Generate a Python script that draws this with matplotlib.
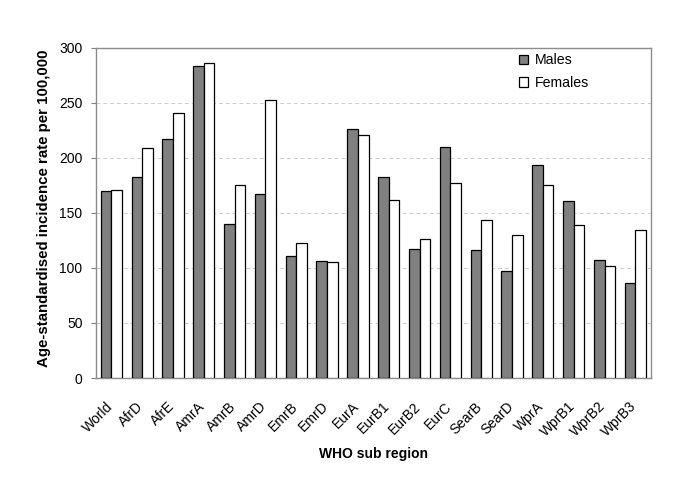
import matplotlib
matplotlib.use("Agg")
import matplotlib.pyplot as plt
from matplotlib.transforms import ScaledTranslation
import numpy as np

plt.rcParams['font.family'] = ['Liberation Sans', 'DejaVu Sans']

regions = ["World", "AfrD", "AfrE", "AmrA", "AmrB", "AmrD", "EmrB", "EmrD", "EurA",
           "EurB1", "EurB2", "EurC", "SearB", "SearD", "WprA", "WprB1", "WprB2", "WprB3"]
males = [170, 182.5, 217, 284, 140, 167.5, 110.5, 106, 226.5,
         182.5, 117.5, 210, 116, 97, 194, 161, 107.5, 86.5]
females = [171, 209, 241, 286, 175, 253, 122.5, 105, 221,
           162, 126, 177.5, 143.5, 130, 175, 139, 101.5, 134.5]
yticks = [0, 50, 100, 150, 200, 250, 300]

fig = plt.figure(figsize=(6.85, 4.84), dpi=100)
ax = fig.add_axes([0.140, 0.219, 0.810, 0.682])

x = np.arange(len(regions))
w = 0.345
ax.bar(x - w/2, males, w, color='#808080', edgecolor='black', linewidth=0.9, label='Males', zorder=3)
ax.bar(x + w/2, females, w, color='white', edgecolor='black', linewidth=0.9, label='Females', zorder=3)

ax.set_xlim(-0.5, len(regions) - 0.5)
ax.set_ylim(0, 300)
ax.set_yticks(yticks)
ax.set_yticklabels([str(t) for t in yticks], fontsize=10)
ax.yaxis.grid(True, linestyle=(0, (4, 3)), color='#cccccc', linewidth=0.7, zorder=0)
ax.set_xticks(x)
ax.set_xticklabels(regions, rotation=45, ha='right', rotation_mode='anchor', fontsize=10)
ax.tick_params(axis='x', length=0, pad=6)
ax.tick_params(axis='y', length=3.6, color='#808080', width=0.8, pad=6)
off = ScaledTranslation(-6/100, -13/100, fig.dpi_scale_trans)
for lab in ax.get_xticklabels():
    lab.set_transform(lab.get_transform() + off)
for s in ax.spines.values():
    s.set_color('#8c8c8c')
    s.set_linewidth(1.0)

ax.set_ylabel('Age-standardised incidence rate per 100,000', fontsize=10.8, fontweight='bold', va='center')
ax.yaxis.set_label_coords(-0.0928, 0.514)
ax.set_xlabel('WHO sub region', fontsize=10, fontweight='bold', va='center')
ax.xaxis.set_label_coords(0.5, -0.230)

ax.legend(loc='upper left', bbox_to_anchor=(0.74, 1.022), frameon=False, fontsize=10.2,
          handlelength=0.65, handleheight=0.65, handletextpad=0.45, labelspacing=0.6)

fig.savefig('out.png', dpi=100)
